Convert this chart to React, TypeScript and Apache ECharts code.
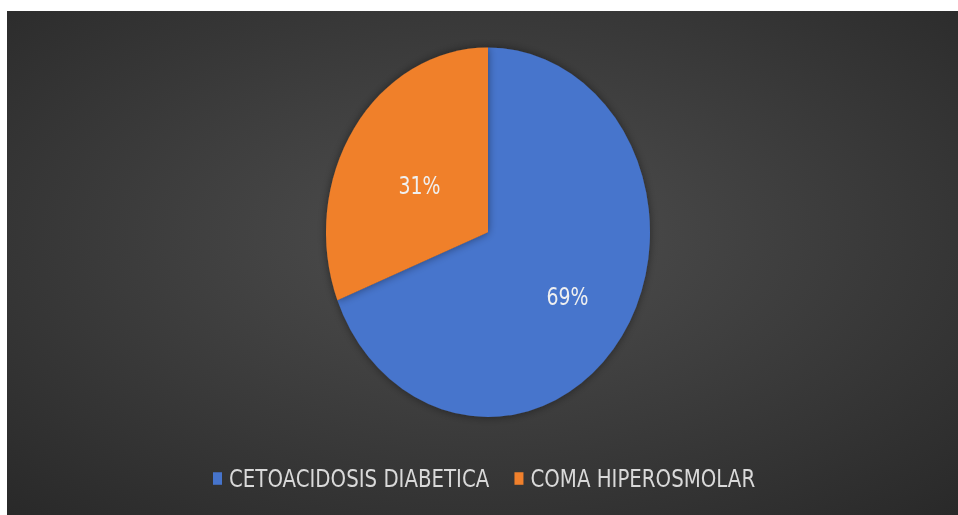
import React, { useEffect, useRef } from "react";
import * as echarts from "echarts";

const categories = ["CETOACIDOSIS DIABETICA", "COMA HIPEROSMOLAR"];
const values = [69, 31];
const colors = ["#4674cc", "#f0802c"];

const OUTER_W = 951;
const OUTER_H = 504;
const INNER_H = 442;
const SCALE_Y = OUTER_H / INNER_H;

export default function App() {
  const ref = useRef<HTMLDivElement>(null);

  useEffect(() => {
    if (!ref.current) return;
    const chart = echarts.init(ref.current, null, { renderer: "svg" });
    const font = '"Liberation Sans Narrow", "DejaVu Sans Condensed", "Liberation Sans", sans-serif';
    chart.setOption({
      animation: false,
      backgroundColor: new echarts.graphic.RadialGradient(0.5, 0.45, 0.78, [
        { offset: 0, color: "#4f4f4f" },
        { offset: 1, color: "#272727" },
      ]),
      color: colors,
      legend: {
        data: categories,
        left: 201,
        top: 394,
        orient: "horizontal",
        itemWidth: 9,
        itemHeight: 11,
        itemGap: 25,
        icon: "rect",
        textStyle: {
          color: "#d9d9d9",
          fontSize: 22,
          fontFamily: font,
          padding: [0, 0, 0, 2],
        },
      },
      series: [
        {
          type: "pie",
          center: [481, 194],
          radius: 162,
          startAngle: 90,
          clockwise: true,
          silent: true,
          itemStyle: {
            shadowBlur: 8,
            shadowColor: "rgba(0,0,0,0.45)",
          },
          label: {
            show: true,
            position: "inside",
            formatter: (p: any) => `${p.value}%`,
            color: "#f0f0f0",
            fontSize: 21,
            fontFamily: font,
          },
          labelLayout: (p: any) =>
            p.dataIndex === 0 ? { dx: 10, dy: 9 } : { dx: 1, dy: 6 },
          data: categories.map((name, i) => ({ name, value: values[i] })),
        },
      ],
    });
    return () => chart.dispose();
  }, []);

  return (
    <div
      style={{
        position: "fixed",
        left: 0,
        top: 0,
        width: 958,
        height: 515,
        background: "#ffffff",
        overflow: "hidden",
      }}
    >
      <div
        style={{
          position: "absolute",
          left: 7,
          top: 11,
          width: OUTER_W,
          height: OUTER_H,
          overflow: "hidden",
        }}
      >
        <div
          ref={ref}
          style={{
            width: OUTER_W,
            height: INNER_H,
            transform: `scaleY(${SCALE_Y})`,
            transformOrigin: "0 0",
          }}
        />
      </div>
    </div>
  );
}
